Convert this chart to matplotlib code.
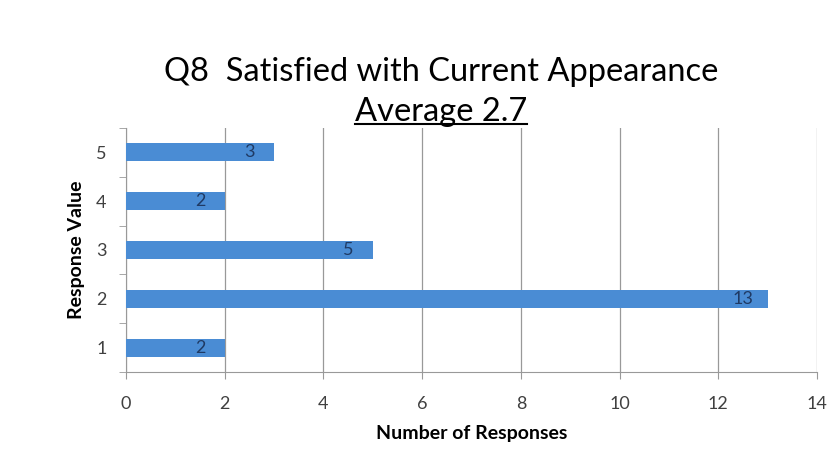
import matplotlib
matplotlib.use("Agg")
import matplotlib.pyplot as plt
from matplotlib.lines import Line2D

# Q8 survey results
response_values = [1, 2, 3, 4, 5]
num_responses = [2, 13, 5, 2, 3]
title_line1 = "Q8  Satisfied with Current Appearance"
title_line2 = "Average 2.7"

plt.rcParams['font.family'] = ['Lato', 'DejaVu Sans']

bar_color = '#4a8cd4'
label_color = '#1f3a64'

fig = plt.figure(figsize=(8.33, 4.62), dpi=100)
ax = fig.add_axes([126/833, 1-372/462, (817-126)/833, (372-128)/462])

ax.barh(response_values, num_responses, height=0.37, color=bar_color, zorder=3)
for v, n in zip(response_values, num_responses):
    ax.text(n - 0.5, v, str(n), ha='center', va='center',
            fontsize=13, color=label_color, zorder=4)

ax.set_xlim(0, 14)
ax.set_ylim(0.5, 5.5)
ax.set_xticks(range(0, 15, 2))
ax.set_yticks(response_values)
ax.set_yticks([0.5, 1.5, 2.5, 3.5, 4.5, 5.5], minor=True)
ax.tick_params(axis='y', which='major', length=0, labelsize=13, colors='#404040', pad=14)
ax.tick_params(axis='y', which='minor', length=5, color='#999999', direction='out')
ax.tick_params(axis='x', length=5, color='#999999', labelsize=13, colors='#404040', pad=12,
               direction='out')
ax.grid(axis='x', color='#999999', linewidth=0.9, zorder=0)
for s in ['top', 'right']:
    ax.spines[s].set_visible(False)
for s in ['left', 'bottom']:
    ax.spines[s].set_color('#999999')

ax.set_xlabel("Number of Responses", fontsize=14, fontweight='bold', labelpad=10)
ax.set_ylabel("Response Value", fontsize=14, fontweight='bold', labelpad=8)

fig.text(441/833, 1-72/462, title_line1, ha='center', va='center', fontsize=23.5)
t2 = fig.text(441/833, 1-112/462, title_line2, ha='center', va='center', fontsize=23.5)

# underline under the average
fig.canvas.draw()
bb = t2.get_window_extent(fig.canvas.get_renderer()).transformed(fig.transFigure.inverted())
fig.add_artist(Line2D([bb.x0, bb.x1], [bb.y0 + 0.006, bb.y0 + 0.006],
                      transform=fig.transFigure, color='black', linewidth=1.5))

fig.savefig("out.png", dpi=100)
